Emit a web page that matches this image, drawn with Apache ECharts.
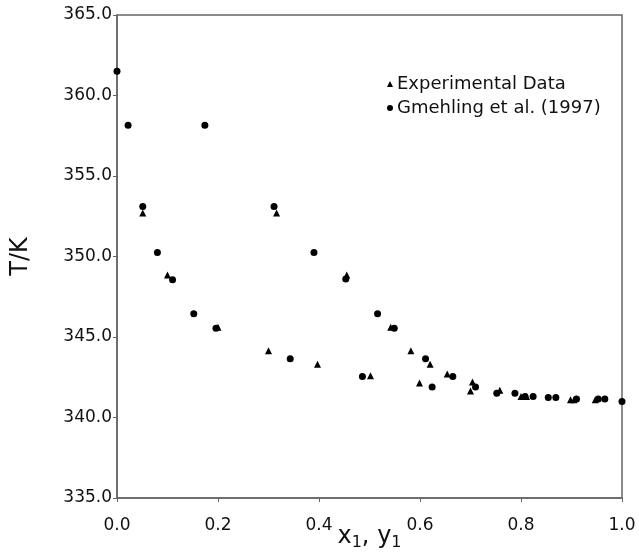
<!DOCTYPE html>
<html>
<head>
<meta charset="utf-8">
<script src="https://cdn.jsdelivr.net/npm/echarts@6/dist/echarts.min.js"></script>
<style>
  html, body { margin: 0; padding: 0; background: #fff; }
  #main { width: 639px; height: 554px; }
</style>
</head>
<body>
<div id="main"></div>
<script>
// Experimental Data (triangles)
var expX = [0.051, 0.100, 0.200, 0.300, 0.316, 0.397, 0.455, 0.502, 0.542, 0.582, 0.599,
            0.620, 0.654, 0.700, 0.704, 0.758, 0.800, 0.811, 0.898, 0.905, 0.947];
var expT = [352.7, 348.85, 345.6, 344.15, 352.7, 343.3, 348.85, 342.6, 345.6, 344.15, 342.15,
            343.3, 342.7, 341.65, 342.2, 341.7, 341.3, 341.3, 341.1, 341.1, 341.1];

// Gmehling et al. (1997) (circles)
var litX = [0.000, 0.022, 0.051, 0.080, 0.110, 0.152, 0.196, 0.174, 0.311, 0.343, 0.390,
            0.453, 0.486, 0.516, 0.549, 0.611, 0.624, 0.665, 0.710, 0.752, 0.788, 0.808,
            0.824, 0.854, 0.869, 0.910, 0.953, 0.966, 1.000];
var litT = [361.5, 358.15, 353.1, 350.25, 348.55, 346.45, 345.55, 358.15, 353.1, 343.65, 350.25,
            348.6, 342.55, 346.45, 345.55, 343.65, 341.9, 342.55, 341.9, 341.5, 341.5, 341.3,
            341.3, 341.25, 341.25, 341.15, 341.15, 341.15, 341.0];

var seriesNames = ['Experimental Data', 'Gmehling et al. (1997)'];

function pairs(xs, ys) {
    var out = [];
    for (var i = 0; i < xs.length; i++) out.push([xs[i], ys[i]]);
    return out;
}

var font = 'DejaVu Sans';
var myChart = echarts.init(document.getElementById('main'));

var option = {
    animation: false,
    backgroundColor: '#fff',
    textStyle: { fontFamily: font },
    grid: {
        left: 117, right: 17, top: 15, bottom: 56,
        outerBoundsMode: 'none',
        containLabel: false,
        show: true, borderColor: '#666', borderWidth: 1.5
    },
    legend: {
        orient: 'vertical',
        left: 382,
        top: 70,
        itemWidth: 6,
        itemHeight: 6,
        itemGap: 6,
        data: [
            { name: seriesNames[0], icon: 'triangle' },
            { name: seriesNames[1], icon: 'circle' }
        ],
        textStyle: { fontFamily: font, fontSize: 18, color: '#111', padding: [0, 0, 0, -1] }
    },
    xAxis: {
        type: 'value',
        min: 0, max: 1, interval: 0.2,
        name: 'x{s|1}, y{s|1}',
        nameLocation: 'middle',
        nameGap: 25,
        nameMoveOverlap: false,
        nameTextStyle: {
            fontFamily: font, fontSize: 24, color: '#111',
            rich: { s: { fontFamily: font, fontSize: 16, color: '#111', padding: [12, 0, 0, 0] } }
        },
        axisLine: { lineStyle: { color: '#666', width: 1.5 } },
        axisTick: { inside: false, length: 4, lineStyle: { color: '#666' } },
        axisLabel: {
            margin: 19, fontFamily: font, fontSize: 17, color: '#111',
            formatter: function (v) { return v.toFixed(1); }
        },
        splitLine: { show: false }
    },
    yAxis: {
        type: 'value',
        min: 335, max: 365, interval: 5,
        name: 'T/K',
        nameLocation: 'middle',
        nameRotate: 90,
        nameGap: 84,
        nameMoveOverlap: false,
        nameTextStyle: { fontFamily: font, fontSize: 24, color: '#111' },
        axisLine: { lineStyle: { color: '#666', width: 1.5 } },
        axisTick: { inside: false, length: 4, lineStyle: { color: '#666' } },
        axisLabel: {
            margin: 5, fontFamily: font, fontSize: 17, color: '#111',
            formatter: function (v) { return v.toFixed(1); }
        },
        splitLine: { show: false }
    },
    series: [
        {
            name: seriesNames[0],
            type: 'scatter',
            symbol: 'triangle',
            symbolSize: 7,
            itemStyle: { color: '#000', opacity: 1 },
            data: pairs(expX, expT)
        },
        {
            name: seriesNames[1],
            type: 'scatter',
            symbol: 'circle',
            symbolSize: 7,
            itemStyle: { color: '#000', opacity: 1 },
            data: pairs(litX, litT)
        }
    ]
};

myChart.setOption(option);
</script>
</body>
</html>
